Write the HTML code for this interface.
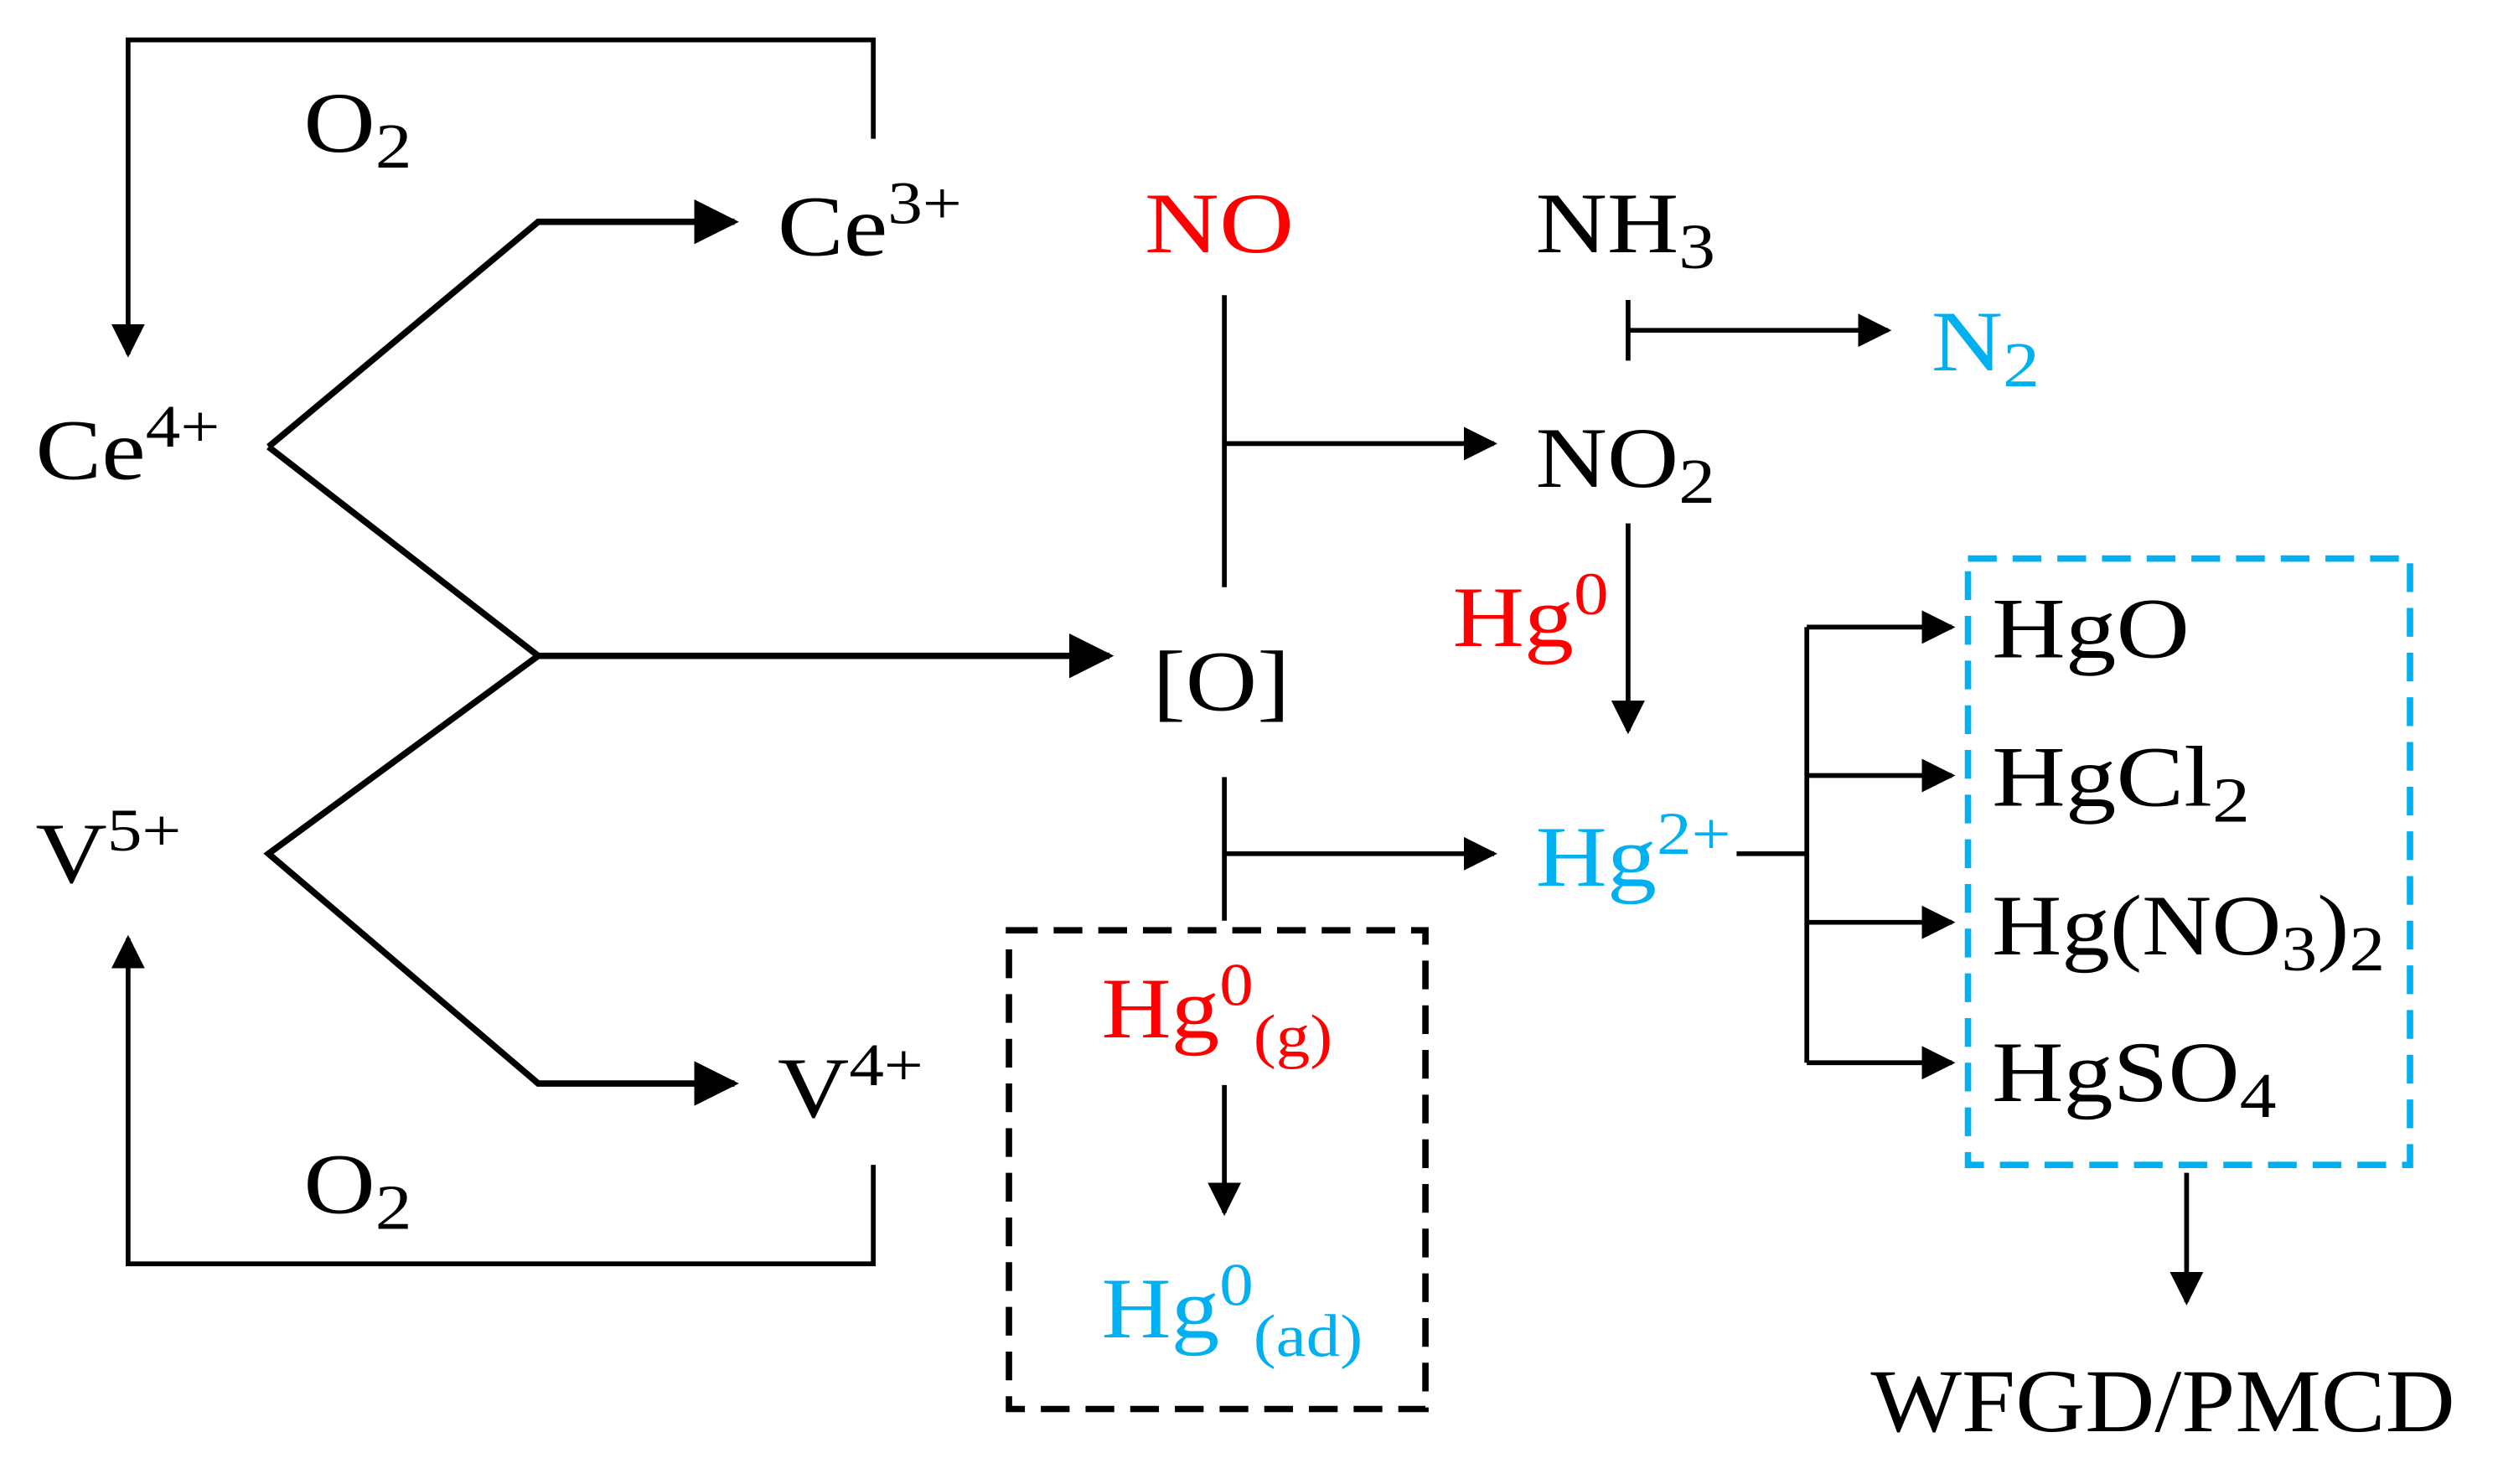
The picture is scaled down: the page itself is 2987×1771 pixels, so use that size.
<!DOCTYPE html>
<html><head><meta charset="utf-8"><style>html,body{margin:0;padding:0;background:#fff}svg{display:block}</style></head>
<body>
<svg width="2987" height="1771" viewBox="0 0 1568 930" xmlns="http://www.w3.org/2000/svg" font-family="Liberation Serif, serif">
<defs>
<marker id="b" viewBox="0 0 10 10" refX="9" refY="5" markerWidth="7" markerHeight="7" orient="auto"><path d="M0,0 L10,5 L0,10 z" fill="#000"/></marker>
</defs>
<g stroke="#000" stroke-width="3" fill="none">
<polyline points="547,87 547,25 80,25 80,222" marker-end="url(#b)"/>
<polyline points="547,730 547,792 80,792 80,588" marker-end="url(#b)"/>
<polyline points="168,280 337,139 460,139" stroke-width="4" marker-end="url(#b)"/>
<polyline points="168,280 337,411 695,411" stroke-width="4" marker-end="url(#b)"/>
<polyline points="337,411 168,535 337,679 460,679" stroke-width="4" marker-end="url(#b)"/>
<line x1="767" y1="185" x2="767" y2="368"/>
<line x1="767" y1="278" x2="936" y2="278" marker-end="url(#b)"/>
<line x1="1020" y1="188" x2="1020" y2="226"/>
<line x1="1020" y1="207" x2="1183" y2="207" marker-end="url(#b)"/>
<line x1="1020" y1="328" x2="1020" y2="458" marker-end="url(#b)"/>
<line x1="767" y1="487" x2="767" y2="577"/>
<line x1="767" y1="535" x2="936" y2="535" marker-end="url(#b)"/>
<polyline points="1088,535 1132,535"/>
<line x1="1132" y1="393" x2="1132" y2="666"/>
<line x1="1132" y1="393" x2="1223" y2="393" marker-end="url(#b)"/>
<line x1="1132" y1="486" x2="1223" y2="486" marker-end="url(#b)"/>
<line x1="1132" y1="578" x2="1223" y2="578" marker-end="url(#b)"/>
<line x1="1132" y1="666" x2="1223" y2="666" marker-end="url(#b)"/>
<line x1="1370" y1="735" x2="1370" y2="816" marker-end="url(#b)"/>
<line x1="767" y1="680" x2="767" y2="760" marker-end="url(#b)"/>
<rect x="1233" y="350" width="277" height="380" stroke="#00b0f0" stroke-width="4" stroke-dasharray="18,10"/>
<rect x="632" y="583" width="261" height="300" stroke-width="4" stroke-dasharray="18,10"/>
</g>
<g font-size="54" fill="#000">
<g transform="translate(190 95) scale(1.15 1)"><text>O<tspan font-size="40" dy="10">2</tspan></text></g>
<g transform="translate(190 760) scale(1.15 1)"><text>O<tspan font-size="40" dy="10">2</tspan></text></g>
<g transform="translate(487 160) scale(1.15 1)"><text>Ce<tspan font-size="38" dy="-20">3+</tspan></text></g>
<g transform="translate(22 300) scale(1.15 1)"><text>Ce<tspan font-size="38" dy="-20">4+</tspan></text></g>
<g transform="translate(22 553) scale(1.15 1)"><text>V<tspan font-size="38" dy="-20">5+</tspan></text></g>
<g transform="translate(487 700) scale(1.15 1)"><text>V<tspan font-size="38" dy="-20">4+</tspan></text></g>
<g transform="translate(717 158) scale(1.2 1)"><text fill="#ff0000">NO</text></g>
<g transform="translate(962 158) scale(1.15 1)"><text>NH<tspan font-size="40" dy="10">3</tspan></text></g>
<g transform="translate(1210 232) scale(1.15 1)"><text fill="#00b0f0">N<tspan font-size="40" dy="10">2</tspan></text></g>
<g transform="translate(962 305) scale(1.15 1)"><text>NO<tspan font-size="40" dy="10">2</tspan></text></g>
<g transform="translate(910 405) scale(1.15 1)"><text fill="#ff0000">Hg<tspan font-size="38" dy="-20">0</tspan></text></g>
<g transform="translate(722 445) scale(1.15 1)"><text>[O]</text></g>
<g transform="translate(962 555) scale(1.15 1)"><text fill="#00b0f0">Hg<tspan font-size="38" dy="-20">2+</tspan></text></g>
<g transform="translate(1248 412) scale(1.18 1)"><text>HgO</text></g>
<g transform="translate(1248 505) scale(1.18 1)"><text>HgCl<tspan font-size="40" dy="10">2</tspan></text></g>
<g transform="translate(1248 598) scale(1.12 1)"><text>Hg(NO<tspan font-size="40" dy="10">3</tspan><tspan dy="-10">)</tspan><tspan font-size="40" dy="10">2</tspan></text></g>
<g transform="translate(1248 690) scale(1.15 1)"><text>HgSO<tspan font-size="40" dy="10">4</tspan></text></g>
<g transform="translate(1172 897) scale(1.08 1)"><text font-size="56">WFGD/PMCD</text></g>
<g transform="translate(690 650) scale(1.12 1)"><text fill="#ff0000">Hg<tspan font-size="38" dy="-20">0</tspan><tspan font-size="38" dy="32">(g)</tspan></text></g>
<g transform="translate(690 838) scale(1.12 1)"><text fill="#00b0f0">Hg<tspan font-size="38" dy="-20">0</tspan><tspan font-size="38" dy="32">(ad)</tspan></text></g>
</g>
</svg>
</body></html>
